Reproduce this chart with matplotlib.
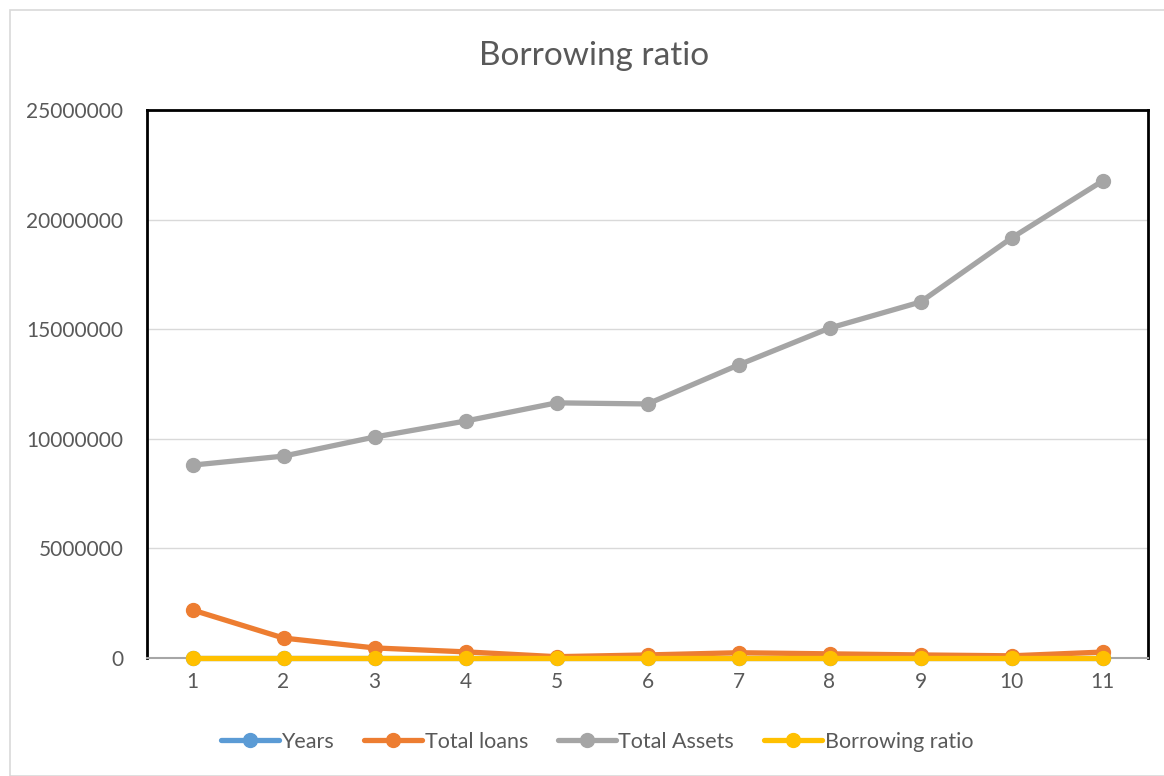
import numpy as np
import matplotlib.pyplot as plt
from matplotlib.patches import Rectangle

plt.rcParams['font.family'] = ['Lato', 'DejaVu Sans']

years = [1, 2, 3, 4, 5, 6, 7, 8, 9, 10, 11]
total_loans = [2190000, 910000, 460000, 280000, 60000, 140000, 240000, 190000, 140000, 100000, 270000]
total_assets = [8800000, 9210000, 10080000, 10810000, 11640000, 11590000, 13370000, 15050000, 16240000, 19160000, 21760000]
borrowing_ratio = [0.25, 0.10, 0.05, 0.03, 0.01, 0.01, 0.02, 0.01, 0.01, 0.01, 0.01]
y_ticks = [0, 5000000, 10000000, 15000000, 20000000, 25000000]

fig = plt.figure(figsize=(11.64, 7.76), dpi=100)
fig.patches.append(Rectangle((10/1164, 0), 1160/1164, 766/776, transform=fig.transFigure,
                             fill=False, edgecolor='#d9d9d9', linewidth=1.2))
ax = fig.add_axes([147/1164, 118/776, 1001/1164, 548/776])

x = np.arange(1, len(years) + 1)
kw = dict(linewidth=3.8, marker='o', markersize=10, solid_capstyle='round', clip_on=False)
ax.plot(x, years, color='#5b9bd5', label='Years', zorder=3, **kw)
ax.plot(x, total_loans, color='#ed7d31', label='Total loans', zorder=4, **kw)
ax.plot(x, total_assets, color='#a5a5a5', label='Total Assets', zorder=4, **kw)
ax.plot(x, borrowing_ratio, color='#ffc000', label='Borrowing ratio', zorder=5, **kw)

ax.set_xlim(0.5, len(years) + 0.5)
ax.set_ylim(0, 25000000)
ax.set_xticks(x)
ax.set_xticklabels([str(v) for v in years])
ax.set_yticks(y_ticks)
ax.set_yticklabels([str(v) for v in y_ticks])
ax.tick_params(axis='both', length=0, labelsize=15, colors='#595959', pad=10)
ax.tick_params(axis='y', pad=17)
ax.grid(axis='y', color='#d9d9d9', linewidth=1)
ax.set_axisbelow(True)
for s in ax.spines.values():
    s.set_color('black')
    s.set_linewidth(2)
ax.spines['bottom'].set_color('#a6a6a6')
ax.spines['bottom'].set_linewidth(1.5)

fig.text(0.51, 0.928, 'Borrowing ratio', ha='center', va='center', fontsize=24, color='#595959')

fig.legend(loc='center', bbox_to_anchor=(0.513, 0.044), ncol=4, frameon=False, fontsize=15.5,
           labelcolor='#595959', handlelength=2.7, columnspacing=1.4, handletextpad=0.1)

fig.savefig('out.png', dpi=100)
